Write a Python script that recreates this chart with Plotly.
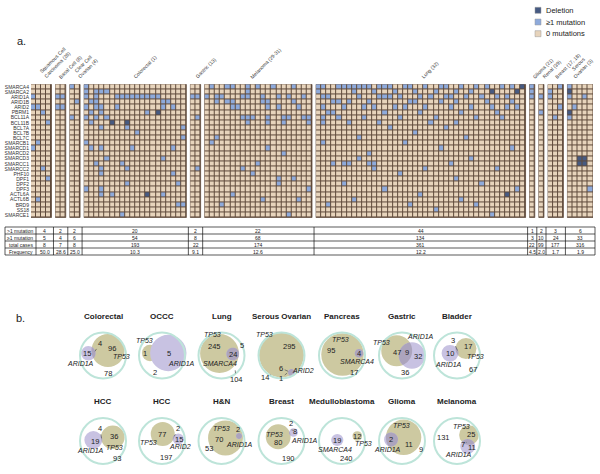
import math
import plotly.graph_objects as go

# ---------------- data ----------------
GENES = ["SMARCA4", "SMARCA2", "ARID1A", "ARID1B", "ARID2", "PBRM1",
         "BCL11A", "BCL11B", "BCL7A", "BCL7B", "BCL7C", "SMARCB1",
         "SMARCD1", "SMARCD2", "SMARCD3", "SMARCC1", "SMARCC2", "PHF10",
         "DPF1", "DPF2", "DPF3", "ACTL6A", "ACTL6B", "BRD9", "SS18", "SMARCE1"]

GROUP_LABELS = ["Squamous Cell<br>Carcinoma (28)", "Basal Cell (8)", "Clear Cell<br>Ovarian (4)",
                "Colorectal (1)", "Gastric (13)", "Melanoma (29-31)", "Lung (32)",
                "Glioma (21)", "Renal (39)", "Breast (17, 18)", "Serous<br>Ovarian (3)"]
GROUP_SAMPLES = [4, 2, 2, 20, 2, 21, 41, 1, 1, 3, 5]

# cells per group: gene -> sample indices  (MUT = >=1 mutation, DEL = deletion)
MUT_SQUAMOUS = {"ARID1A": [0], "ARID2": [0, 1], "PBRM1": [2], "BCL11B": [3], "SMARCB1": [1],
                "SMARCD1": [0], "SMARCC2": [2], "DPF1": [3], "ACTL6B": [1]}
DEL_SQUAMOUS = {}
MUT_BASAL = {"ARID1A": [0, 1], "ARID2": [0, 1]}
DEL_BASAL = {}
MUT_CLEAR = {"SMARCA4": [0], "ARID1B": [1], "BCL11A": [0]}
DEL_CLEAR = {}
MUT_COLORECTAL = {"SMARCA4": [0], "SMARCA2": [0, 2, 3, 4],
                  "ARID1A": [0, 2, 6, 7, 8, 9, 10, 11, 12, 13, 14], "ARID1B": [1, 2, 15, 16],
                  "ARID2": [0, 2, 3, 6, 15, 17], "PBRM1": [1, 3, 12], "BCL11A": [0, 2, 4],
                  "BCL11B": [1], "BCL7A": [3, 8, 19], "BCL7B": [10], "BCL7C": [19],
                  "SMARCB1": [0], "SMARCD1": [1, 3, 9, 17], "SMARCD3": [4, 15],
                  "SMARCC1": [2, 7], "SMARCC2": [3, 8], "PHF10": [3, 17], "DPF2": [8, 18],
                  "DPF3": [0, 3], "ACTL6A": [3, 5, 15], "BRD9": [18, 19], "SMARCE1": [7]}
DEL_COLORECTAL = {"PBRM1": [14], "BCL11B": [5, 8], "ACTL6A": [12]}
MUT_GASTRIC = {"ARID1A": [0, 1], "BCL11A": [1], "SMARCC2": [1]}
DEL_GASTRIC = {}
MUT_MELANOMA = {"SMARCA4": [1, 4, 5, 8, 10, 13, 17], "SMARCA2": [8],
                "ARID1A": [0, 2, 3, 7, 8, 11, 14, 16, 19], "ARID1B": [2, 4, 5, 11, 12, 17],
                "ARID2": [5, 6, 12, 14, 18], "BCL11A": [7, 8, 9, 12, 15, 16, 19, 20],
                "BCL11B": [8, 12, 15, 20], "BCL7C": [2], "SMARCB1": [1], "SMARCD1": [12],
                "SMARCD2": [15], "SMARCC1": [10], "SMARCC2": [7], "PHF10": [9],
                "DPF1": [14, 17], "DPF2": [14], "DPF3": [20], "ACTL6A": [5],
                "ACTL6B": [11, 18], "BRD9": [3], "SMARCE1": [16]}
DEL_MELANOMA = {}
MUT_LUNG = {"SMARCA4": [0, 1, 4, 5, 6, 7, 8, 9, 10, 12, 13, 14, 17, 18, 21, 24, 25, 28, 31, 33, 36, 38],
            "SMARCA2": [0, 7, 11, 15, 19, 23, 27, 30],
            "ARID1A": [1, 2, 8, 12, 13, 14, 16, 20, 22, 25, 26, 29, 32, 35, 37],
            "ARID1B": [3, 4, 6, 10, 18, 19, 24, 27, 33, 38],
            "ARID2": [1, 5, 9, 11, 15, 17, 21, 26, 30, 34, 37, 39],
            "PBRM1": [2, 3, 13, 20, 28, 35], "BCL11A": [1, 4, 9, 16, 23, 31, 36],
            "BCL11B": [1, 6, 12, 22, 27], "BCL7A": [14, 25], "BCL7B": [19], "BCL7C": [8, 29],
            "SMARCB1": [1, 17], "SMARCD1": [24, 38], "SMARCD2": [10], "SMARCD3": [8, 30],
            "SMARCC1": [3, 5, 6, 10, 11, 26], "SMARCC2": [11, 21, 35], "PHF10": [16],
            "DPF1": [27], "DPF2": [5, 32], "DPF3": [13, 39], "ACTL6A": [20],
            "ACTL6B": [7, 28], "BRD9": [2, 18, 31], "SS18": [23], "SMARCE1": [34]}
DEL_LUNG = {"SMARCA4": [40], "SMARCA2": [34, 39], "ACTL6A": [37]}
MUT_GLIOMA = {"SMARCA4": [0], "SMARCA2": [0], "ARID1A": [0]}
DEL_GLIOMA = {}
MUT_RENAL = {"ARID1A": [0], "PBRM1": [0]}
DEL_RENAL = {}
MUT_BREAST = {"SMARCA4": [2], "SMARCA2": [0], "ARID1A": [0], "ARID2": [2], "BCL11A": [1]}
DEL_BREAST = {}
MUT_SEROUS = {"SMARCA4": [0], "ARID1A": [0, 3], "ARID2": [1], "BCL11A": [0], "DPF3": [4]}
DEL_SEROUS = {"SMARCA2": [0], "PBRM1": [0], "SMARCD3": [2, 3], "SMARCC1": [2, 3]}

GROUP_MUT = [MUT_SQUAMOUS, MUT_BASAL, MUT_CLEAR, MUT_COLORECTAL, MUT_GASTRIC, MUT_MELANOMA,
             MUT_LUNG, MUT_GLIOMA, MUT_RENAL, MUT_BREAST, MUT_SEROUS]
GROUP_DEL = [DEL_SQUAMOUS, DEL_BASAL, DEL_CLEAR, DEL_COLORECTAL, DEL_GASTRIC, DEL_MELANOMA,
             DEL_LUNG, DEL_GLIOMA, DEL_RENAL, DEL_BREAST, DEL_SEROUS]

TABLE_ROWS = [">1 mutation", "\u22651 mutation", "total cases", "Frequency"]
TABLE_GT1 = [4, 2, 2, 20, 2, 22, 44, 1, 2, 3, 6]
TABLE_GE1 = [5, 4, 6, 54, 8, 68, 134, 3, 10, 24, 33]
TABLE_TOTAL = [8, 7, 8, 193, 22, 174, 361, 22, 99, 177, 316]
TABLE_FREQ = ["50.0", "28.6", "25.0", "10.3", "9.1", "12.6", "12.2", "4.5", "2.0", "1.7", "1.9"]

LEGEND_LABELS = ["Deletion", "\u22651 mutation", "0 mutations"]

VENN_TITLES = ["Colorectal", "OCCC", "Lung", "Serous Ovarian", "Pancreas", "Gastric", "Bladder",
               "HCC", "HCC", "H&amp;N", "Breast", "Medulloblastoma", "Glioma", "Melanoma"]
VENN_GENE_A = ["TP53"] * 14
VENN_GENE_B = ["ARID1A", "ARID1A", "SMARCA4", "ARID2", "SMARCA4", "ARID1A", "ARID1A",
               "ARID1A", "ARID2", "ARID1A", "ARID1A", "SMARCA4", "ARID1A", "ARID1A"]
VENN_A_ONLY = [96, 1, 245, 295, 95, 47, 17, 36, 77, 70, 80, 12, 11, 25]
VENN_OVERLAP = [4, 0, 24, 6, 4, 9, 3, 4, 2, 2, 2, 0, 2, 7]
VENN_B_ONLY = [15, 5, 5, 1, 0, 32, 10, 19, 15, 0, 8, 19, 0, 11]
VENN_NEITHER = [78, 2, 104, 14, 17, 36, 67, 93, 197, 53, 190, 240, 9, 131]

# ---------------- style / layout ----------------
W, H = 600, 474
FONT = "Arial, Liberation Sans, sans-serif"
ZERO_COLOR = "#e7d4bc"
MUT_COLOR = "#8eaadb"
DEL_COLOR = "#465a82"
GRID_COLOR = "#5f4a3b"
LEGEND_COLORS = [DEL_COLOR, MUT_COLOR, ZERO_COLOR]
RING_COLOR = "#bde4d9"
A_COLOR = "#cdc9a1"
B_COLOR = "#c8c2e2"
LENS_COLOR = "#aca4bd"
TEXT_COLOR = "#222222"

HM_LEFT, HM_RIGHT, HM_TOP, HM_BOTTOM = 31, 593, 84, 218
GAP = 0.8
LABEL_XSHIFT = [-6, -6, -6, -6, -4, -12, -4, -3, -3, -5, -16]
TABLE_LEFT, TABLE_LABEL_RIGHT, TABLE_RIGHT, TABLE_TOP, TABLE_ROW_H = 5, 36, 595, 227, 7

VENN_COL_X = [103, 162, 221.5, 281.5, 342, 402, 457]
VENN_ROW_Y = [355.5, 441]
TITLE_DY = -39.5
R_OUT = 23

# per-diagram circle placement and label offsets (px, relative to ring centre)
VENN_STYLE = [
    dict(A=(5, -5), B=(-14.7, -2.2), L=dict(A=(18.7, 0.5), a=(8.7, -7.2), o=(-3, -12.2, -5, 8),
                                             b=(-16.3, -2.2), B=(-23, 7.8), n=(4.7, 17.8))),
    dict(A=(-12, -2.5), B=(6.3, -2.5), L=dict(A=(-18, -15.5), a=(-17.3, -2.2), b=(7.3, -2.2),
                                               B=(19.7, 7.8), n=(-7, 16.5))),
    dict(A=(-2, -2), B=(11.3, -1.5), L=dict(A=(-8.7, -21.5), a=(-7, -9.5), b=(20.7, -10.5, -3, 6),
                                            o=(11.3, -1.5), B=(-2, 7.8), n=(14.7, 23.8, -1, -9))),
    dict(A=(0, -0.5), B=(10, 17), L=dict(A=(-17, -21.5), a=(8, -9.5), o=(-0.3, 12.8, 7, 3),
                                         B=(21, 14.5), n=(-17, 22.2, 6, -3), b=(-0.3, 22.5, 6, -5))),
    dict(A=(0.5, -1), B=(17, -2.2), L=dict(A=(-2, -16.2), a=(-11.3, -4.8), o=(17, -2.2),
                                           B=(14.7, 6.2), n=(12.3, 17.2))),
    dict(A=(-5.3, -4.8), B=(10, 0), L=dict(A=(-20.3, -12.8), a=(-4.7, -2.8), o=(5.3, -3.5),
                                           b=(16.3, 1.2), B=(18, -18.8), n=(3, 17.2))),
    dict(A=(9, -7), B=(-7, -2.2), L=dict(o=(-4.3, -15.5, 4.8, 10.5), a=(10.7, -9.5), A=(18.7, 0.5),
                                         b=(-7, -2.2), B=(-8.7, 8.5), n=(15.7, 13.5))),
    dict(A=(9.8, -3.7), B=(-9.7, -1), L=dict(o=(-3, -12.7, 1.5, 10), b=(-8, 0.7), a=(11.3, -4.3),
                                             A=(11.3, 6.3), B=(-13, 9.7), n=(13.7, 17.3))),
    dict(A=(0.7, -7), B=(16.3, -2), L=dict(o=(16.3, -12.7, -4, 8), a=(-0.3, -7), b=(17.3, -2),
                                           A=(-13.7, 1.7), B=(18, 5.7), n=(4.7, 16.7))),
    dict(A=(4, -3), B=(17.5, -5), L=dict(A=(-0.3, -12.7), o=(16.3, -12, 1.5, 6), a=(-2.7, -1.7),
                                         B=(18.3, 3), n=(-12.7, 7.3))),
    dict(A=(-3.3, -4.3), B=(12, -8.5), L=dict(o=(9.3, -17.7, 1.5, 7.5), b=(13.3, -9.3), A=(-7.3, -6.7),
                                              a=(-4, 1.7), B=(23, -1), n=(7.3, 17.3))),
    dict(A=(15.3, -5), B=(-4.7, -1), L=dict(b=(-4.7, -1), a=(15.3, -5), A=(21.3, 2.3),
                                            B=(-7, 8.3), n=(4.7, 17.3))),
    dict(A=(1.6, -3.7), B=(-11, -1.5), L=dict(A=(-0.3, -15.3), o=(-11, -1.5), B=(-14.7, 8.3),
                                              a=(7.3, 3.3), n=(18.7, 8.3))),
    dict(A=(12, -6), B=(10.7, 5.5), L=dict(A=(4.7, -14.3), a=(14, -7), n=(-13.7, -3.7),
                                           o=(5.7, 3.3, 4, -2), b=(14.7, 6.3), B=(1.3, 13.3))),
]

# ---------------- heatmap ----------------
starts = []
pos = 0.0
for n in GROUP_SAMPLES:
    starts.append(pos)
    pos += n + GAP
U = pos - GAP


def u2px(u):
    return HM_LEFT + (u + 0.5) * (HM_RIGHT - HM_LEFT) / U


fig = go.Figure()
shapes = []
annotations = []

colorscale = [[0, ZERO_COLOR], [0.333, ZERO_COLOR], [0.334, MUT_COLOR], [0.666, MUT_COLOR],
              [0.667, DEL_COLOR], [1, DEL_COLOR]]
for g, n in enumerate(GROUP_SAMPLES):
    z = [[0] * n for _ in GENES]
    for gene, cols in GROUP_MUT[g].items():
        for c in cols:
            z[GENES.index(gene)][c] = 1
    for gene, cols in GROUP_DEL[g].items():
        for c in cols:
            z[GENES.index(gene)][c] = 2
    fig.add_trace(go.Heatmap(z=z, x0=starts[g], dx=1, y=GENES, zmin=0, zmax=2,
                             colorscale=colorscale, showscale=False, xgap=1, ygap=1,
                             hoverinfo="skip", xaxis="x", yaxis="y"))
    shapes.append(dict(type="rect", xref="x", yref="y", x0=starts[g] - 0.5, x1=starts[g] + n - 0.5,
                       y0=-0.5, y1=len(GENES) - 0.5, fillcolor=GRID_COLOR,
                       line=dict(width=0.8, color=GRID_COLOR), layer="below"))
    annotations.append(dict(x=starts[g] + (n - 1) / 2, y=HM_TOP - 1.5, xref="x", yref="y2",
                            text=GROUP_LABELS[g], textangle=-45, showarrow=False,
                            xanchor="left", yanchor="bottom", xshift=LABEL_XSHIFT[g],
                            font=dict(size=5, family=FONT, color="#333")))

# dummy trace to create the pixel overlay subplot
fig.add_trace(go.Scatter(x=[], y=[], xaxis="x2", yaxis="y2", hoverinfo="skip"))

# ---------------- table ----------------
bounds = [TABLE_LABEL_RIGHT]
for g in range(1, len(GROUP_SAMPLES)):
    bounds.append(u2px(starts[g] - 0.5 - GAP / 2))
bounds.append(TABLE_RIGHT)
nrows = len(TABLE_ROWS)
table_bottom = TABLE_TOP + nrows * TABLE_ROW_H
line_style = dict(color="#111", width=0.7)
for r in range(nrows + 1):
    yy = TABLE_TOP + r * TABLE_ROW_H
    shapes.append(dict(type="line", xref="x2", yref="y2", x0=TABLE_LEFT, x1=TABLE_RIGHT, y0=yy, y1=yy,
                       line=line_style))
for xx in [TABLE_LEFT] + bounds:
    shapes.append(dict(type="line", xref="x2", yref="y2", x0=xx, x1=xx, y0=TABLE_TOP, y1=table_bottom,
                       line=line_style))
table_values = [TABLE_GT1, TABLE_GE1, TABLE_TOTAL, TABLE_FREQ]
for r, label in enumerate(TABLE_ROWS):
    yc = TABLE_TOP + (r + 0.5) * TABLE_ROW_H
    annotations.append(dict(x=TABLE_LABEL_RIGHT - 1.5, y=yc, xref="x2", yref="y2", text=label,
                            showarrow=False, xanchor="right", yanchor="middle",
                            font=dict(size=5, family=FONT, color="#222")))
    for g, v in enumerate(table_values[r]):
        annotations.append(dict(x=(bounds[g] + bounds[g + 1]) / 2, y=yc, xref="x2", yref="y2",
                                text=str(v), showarrow=False, xanchor="center", yanchor="middle",
                                font=dict(size=5, family=FONT, color="#222")))

# ---------------- legend ----------------
LEG_X, LEG_Y0, LEG_DY, LEG_SQ = 535, 10.3, 11.7, 6
for i, (lab, colr) in enumerate(zip(LEGEND_LABELS, LEGEND_COLORS)):
    yc = LEG_Y0 + i * LEG_DY
    shapes.append(dict(type="rect", xref="x2", yref="y2", x0=LEG_X, x1=LEG_X + LEG_SQ,
                       y0=yc - LEG_SQ / 2, y1=yc + LEG_SQ / 2, fillcolor=colr,
                       line=dict(color="#999", width=0.5)))
    annotations.append(dict(x=LEG_X + LEG_SQ + 3, y=yc, xref="x2", yref="y2", text=lab,
                            showarrow=False, xanchor="left", yanchor="middle",
                            font=dict(size=7.5, family=FONT, color="#222")))

# panel letters
annotations.append(dict(x=15, y=41, xref="x2", yref="y2", text="a.", showarrow=False,
                        xanchor="left", yanchor="middle", font=dict(size=11, family=FONT, color="#222")))
annotations.append(dict(x=14, y=318, xref="x2", yref="y2", text="b.", showarrow=False,
                        xanchor="left", yanchor="middle", font=dict(size=11, family=FONT, color="#222")))


# ---------------- venn diagrams ----------------
def circle_shape(cx, cy, r, fill, line=None):
    return dict(type="circle", xref="x2", yref="y2", x0=cx - r, x1=cx + r, y0=cy - r, y1=cy + r,
                fillcolor=fill, line=line or dict(width=0))


def arc(cx, cy, r, a0, a1, n=36):
    return [(cx + r * math.cos(a0 + (a1 - a0) * t / n), cy + r * math.sin(a0 + (a1 - a0) * t / n))
            for t in range(n + 1)]


def lens_path(ax, ay, ra, bx, by, rb):
    d = math.hypot(bx - ax, by - ay)
    if d >= ra + rb:
        return None
    if d <= abs(ra - rb):
        cx, cy, r = (ax, ay, ra) if ra < rb else (bx, by, rb)
        pts = arc(cx, cy, r, 0, 2 * math.pi, 60)
    else:
        al = math.atan2(by - ay, bx - ax)
        be = math.acos((d * d + ra * ra - rb * rb) / (2 * d * ra))
        ga = math.acos((d * d + rb * rb - ra * ra) / (2 * d * rb))
        p1 = arc(ax, ay, ra, al - be, al + be)
        p2 = arc(bx, by, rb, al + math.pi - ga, al + math.pi + ga)
        end = p1[-1]
        if math.hypot(p2[0][0] - end[0], p2[0][1] - end[1]) > math.hypot(p2[-1][0] - end[0], p2[-1][1] - end[1]):
            p2 = p2[::-1]
        pts = p1 + p2
    return "M " + " L ".join(f"{x:.2f},{y:.2f}" for x, y in pts) + " Z"


for i, title in enumerate(VENN_TITLES):
    row, col = divmod(i, 7)
    cx, cy = VENN_COL_X[col], VENN_ROW_Y[row]
    a, o, b, nn = VENN_A_ONLY[i], VENN_OVERLAP[i], VENN_B_ONLY[i], VENN_NEITHER[i]
    k = R_OUT / math.sqrt(a + o + b + nn)
    ra, rb = k * math.sqrt(a + o), k * math.sqrt(b + o)
    st = VENN_STYLE[i]
    axc, ayc = cx + st["A"][0], cy + st["A"][1]
    bxc, byc = cx + st["B"][0], cy + st["B"][1]

    shapes.append(circle_shape(axc, ayc, ra, A_COLOR))
    shapes.append(circle_shape(bxc, byc, rb, B_COLOR))
    if o > 0:
        p = lens_path(axc, ayc, ra, bxc, byc, rb)
        if p:
            shapes.append(dict(type="path", xref="x2", yref="y2", path=p, fillcolor=LENS_COLOR,
                               line=dict(width=0)))
    shapes.append(circle_shape(cx, cy, R_OUT, "rgba(0,0,0,0)", dict(color=RING_COLOR, width=2)))

    annotations.append(dict(x=cx, y=cy + TITLE_DY, xref="x2", yref="y2", text=f"<b>{title}</b>",
                            showarrow=False, xanchor="center", yanchor="middle",
                            font=dict(size=8, family=FONT, color="#222")))
    texts = {"A": f"<i>{VENN_GENE_A[i]}</i>", "B": f"<i>{VENN_GENE_B[i]}</i>",
             "a": a, "o": o, "b": b, "n": nn}
    for key, spec in st["L"].items():
        val = texts[key]
        if isinstance(val, int):
            if val == 0:
                continue
            val = str(val)
            fsize = 7.5
        else:
            fsize = 7
        tx, ty = cx + spec[0], cy + spec[1]
        if len(spec) == 4:
            annotations.append(dict(x=tx + spec[2], y=ty + spec[3], xref="x2", yref="y2",
                                    ax=-spec[2], ay=-spec[3], text=val, showarrow=True,
                                    arrowhead=0, arrowwidth=0.7, arrowcolor="#555", standoff=0,
                                    font=dict(size=fsize, family=FONT, color=TEXT_COLOR)))
        else:
            annotations.append(dict(x=tx, y=ty, xref="x2", yref="y2", text=val, showarrow=False,
                                    xanchor="center", yanchor="middle",
                                    font=dict(size=fsize, family=FONT, color=TEXT_COLOR)))

fig.update_layout(
    width=W, height=H, autosize=False, margin=dict(l=0, r=0, t=0, b=0),
    paper_bgcolor="white", plot_bgcolor="rgba(0,0,0,0)", showlegend=False,
    xaxis=dict(domain=[HM_LEFT / W, HM_RIGHT / W], range=[-0.5, U - 0.5], visible=False,
               fixedrange=True),
    yaxis=dict(domain=[1 - HM_BOTTOM / H, 1 - HM_TOP / H], type="category", categoryorder="array",
               categoryarray=GENES, autorange="reversed", showgrid=False, zeroline=False,
               showline=False, ticks="", automargin=False, fixedrange=True,
               tickmode="array", tickvals=GENES, ticktext=GENES, ticklabelstandoff=1,
               tickfont=dict(size=5, family=FONT, color="#333")),
    xaxis2=dict(domain=[0, 1], range=[0, W], visible=False, anchor="y2", fixedrange=True),
    yaxis2=dict(domain=[0, 1], range=[H, 0], visible=False, anchor="x2", fixedrange=True),
    shapes=shapes, annotations=annotations,
)

fig.write_html("out.html", config={"displayModeBar": False},
               post_script="document.body.style.margin='0';")
